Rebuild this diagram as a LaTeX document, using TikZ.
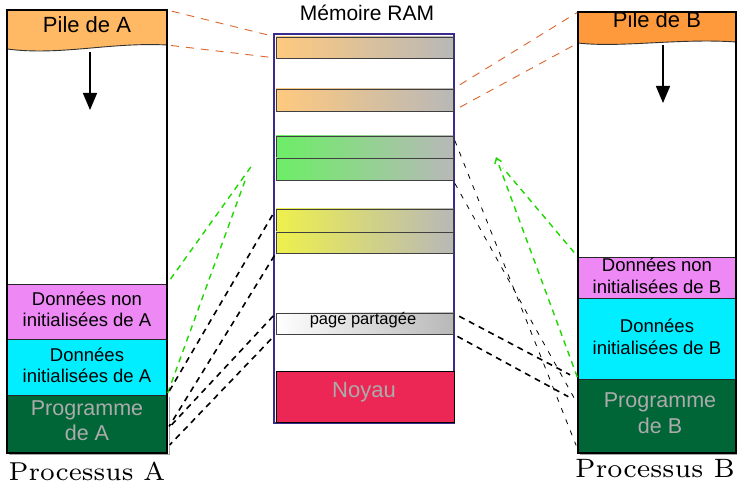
\documentclass[tikz,border=0pt]{standalone}
\usepackage{fontspec}
\usepackage{graphicx}
\newfontfamily\sansf{Liberation Sans}
\usetikzlibrary{arrows.meta,calc}

\definecolor{pileA}{HTML}{FFB864}
\definecolor{pileB}{HTML}{FF9A3C}
\definecolor{segpink}{HTML}{EE88F5}
\definecolor{segcyan}{HTML}{00EEFF}
\definecolor{seggreen}{HTML}{006637}
\definecolor{noyau}{HTML}{EC2756}
\definecolor{paletext}{HTML}{ABABAB}
\definecolor{dashorange}{HTML}{D9662A}
\definecolor{dashgreen}{HTML}{1ED800}
\definecolor{ramframe}{HTML}{3A2C8C}
\definecolor{barorange}{HTML}{FFC97E}
\definecolor{bargreen}{HTML}{6CEE66}
\definecolor{baryellow}{HTML}{EEF04C}
\definecolor{bargray}{HTML}{B8B8B8}

\tikzset{
  box/.style={rectangle, inner sep=0pt, outer sep=0pt, anchor=north west},
  bar/.style={box, draw=black!75, line width=0.8pt, minimum width=177pt},
  seg/.style={box, draw=black!85, line width=0.9pt, minimum width=#1},
  txt/.style={anchor=base, inner sep=0pt, font=\sansf\fontsize{18.5}{21}\selectfont},
  bigtxt/.style={anchor=base, inner sep=0pt, font=\sansf\fontsize{22}{25}\selectfont},
  orangedash/.style={draw=dashorange, line width=0.9pt, dash pattern=on 8pt off 7pt},
  greendash/.style={draw=dashgreen, line width=1.4pt, dash pattern=on 6pt off 5pt},
  blackthick/.style={draw=black, line width=1.6pt, dash pattern=on 6pt off 5pt},
  blackthin/.style={draw=black, line width=0.8pt, dash pattern=on 5pt off 7pt},
  stackarrow/.style={line width=1.5pt, -{Triangle[width=14pt,length=17pt]}},
}

\begin{document}
\begin{tikzpicture}[x=1pt,y=-1pt]
\useasboundingbox (0,0) rectangle (737,486);

% ---------- RAM ----------
\node[box, draw=ramframe, line width=1.4pt, minimum width=180pt, minimum height=389pt] (ram) at (274,34) {};
\node[bigtxt, font=\sansf\fontsize{21}{24}\selectfont] (ramtitle) at (367,21) {Mémoire RAM};

\node[bar, minimum height=21pt, left color=barorange, right color=bargray] (r1) at (276,37) {};
\node[bar, minimum height=22pt, left color=barorange, right color=bargray] (r2) at (276,89) {};
\node[bar, minimum height=21pt, left color=bargreen, right color=bargray] (r3) at (276,136) {};
\node[bar, minimum height=22pt, left color=bargreen, right color=bargray] (r4) at (276,158) {};
\node[bar, minimum height=22pt, left color=baryellow, right color=bargray] (r5) at (276,209) {};
\node[bar, minimum height=21pt, left color=baryellow, right color=bargray] (r6) at (276,232) {};
\node[bar, minimum height=21pt, left color=white, right color=bargray] (rp) at (276,313) {};
\node[anchor=base, inner sep=0pt, font=\sansf\fontsize{16.5}{18}\selectfont] (rptxt) at (363,325) {page partagée};
\node[box, draw=black, line width=1pt, fill=noyau, minimum width=178pt, minimum height=51pt] (noy) at (276,372) {};
\node[bigtxt, text=paletext] (noytxt) at (364,398) {Noyau};

% ---------- Processus A ----------
\node[box, minimum width=160pt, minimum height=35pt] (pileA) at (7,10) {};
\fill[pileA] (7,10) -- (167,10) -- (167,45) .. controls (110,42) and (60,56) .. (7,49) -- cycle;
\draw[black!80, line width=0.9pt] (167,45) .. controls (110,42) and (60,56) .. (7,49);
\node[bigtxt] (pileAtxt) at (87,33) {Pile de A};
\draw[stackarrow] (90,52) -- (90,110);

\node[seg=160pt, fill=segpink, minimum height=55pt] (pinkA) at (7,284) {};
\node[seg=160pt, fill=segcyan, minimum height=56pt] (cyanA) at (7,339) {};
\draw[gray!70, line width=1pt] (169,397) -- (169,455) -- (9,455);
\node[seg=160pt, fill=seggreen, minimum height=58pt] (greenA) at (7,395) {};
\node[box, draw=black, line width=1.3pt, minimum width=160pt, minimum height=443pt] (procA) at (7,10) {};

\node[txt] (pinkA1) at (87,306) {Données non};
\node[txt] (pinkA2) at (87,327) {initialisées de A};
\node[txt] (cyanA1) at (87,362) {Données};
\node[txt] (cyanA2) at (87,383) {initialisées de A};
\node[bigtxt, font=\sansf\fontsize{21.5}{25}\selectfont, text=paletext] (greenA1) at (87,416) {Programme};
\node[bigtxt, font=\sansf\fontsize{21.5}{25}\selectfont, text=paletext] (greenA2) at (87,441) {de A};
\node[anchor=base, inner sep=0pt] (lblA) at (87,481) {\scalebox{3.7}{\fontsize{7}{8}\selectfont Processus A}};

% ---------- Processus B ----------
\node[box, minimum width=158pt, minimum height=31pt] (pileB) at (578,12) {};
\fill[pileB] (578,12) -- (736,12) -- (736,42) .. controls (680,38) and (620,48) .. (578,43) -- cycle;
\draw[black!80, line width=0.9pt] (736,42) .. controls (680,38) and (620,48) .. (578,43);
\node[bigtxt] (pileBtxt) at (657,28) {Pile de B};
\draw[stackarrow] (663,45) -- (663,103);

\node[seg=158pt, fill=segpink, minimum height=41pt] (pinkB) at (578,257) {};
\node[seg=158pt, fill=segcyan, minimum height=81pt] (cyanB) at (578,298) {};
\node[seg=158pt, fill=seggreen, minimum height=74pt] (greenB) at (578,379) {};
\draw[gray!70, line width=1pt] (580,455) -- (737,455);
\node[box, draw=black, line width=1.3pt, minimum width=158pt, minimum height=441pt] (procB) at (578,12) {};

\node[txt] (pinkB1) at (657,272) {Données non};
\node[txt] (pinkB2) at (657,294) {initialisées de B};
\node[txt] (cyanB1) at (657,333) {Données};
\node[txt] (cyanB2) at (657,355) {initialisées de B};
\node[bigtxt, font=\sansf\fontsize{21.5}{25}\selectfont, text=paletext] (greenB1) at (660,408) {Programme};
\node[bigtxt, font=\sansf\fontsize{21.5}{25}\selectfont, text=paletext] (greenB2) at (660,434) {de B};
\node[anchor=base, inner sep=0pt] (lblB) at (655,478) {\scalebox{3.8}{\fontsize{7}{8}\selectfont Processus B}};

% ---------- stacks mapped into RAM ----------
\draw[orangedash, shorten <=5pt, shorten >=5pt] (pileA.north east) -- (r1.north west);
\draw[orangedash, shorten <=4pt, shorten >=7pt] (pileA.south east) -- (r1.south west);
\draw[orangedash, shorten <=8pt, shorten >=1pt] (r2.north east) -- (pileB.north west);
\draw[orangedash, shorten <=8pt, shorten >=1pt] (r2.south east) -- (pileB.south west);

% ---------- data segments ----------
\coordinate (gA1) at (253,164);
\coordinate (gA2) at (246,178);
\draw[greendash, shorten <=6pt] (pinkA.north east) -- (gA1);
\draw[greendash, shorten <=2pt] (greenA.north east) -- (gA2);

\coordinate (gB1) at (503,168);
\coordinate (gB2) at (496,157);
\draw[greendash, shorten <=6pt] (pinkB.north west) -- (gB1);
\draw[greendash, -{Straight Barb[length=5pt,width=7pt]}, shorten <=2pt] (greenB.north west) -- (gB2);

% ---------- code pages of A ----------
\draw[blackthick, shorten <=7pt, shorten >=3pt] (r5.north west) -- (greenA.north east);
\draw[blackthick, shorten <=3pt, shorten >=4pt] (r6.south west) -- ($(greenA.north east)!0.6!(greenA.south east)$);
\draw[blackthick, shorten <=4pt, shorten >=4pt] (rp.north west) -- ($(greenA.north east)!0.6!(greenA.south east)$);
\draw[blackthick, shorten <=7pt, shorten >=4pt] (rp.south west) -- ($(greenA.north east)!0.91!(greenA.south east)$);

% ---------- code pages of B ----------
\draw[blackthin, shorten <=5pt, shorten >=5pt] (r3.north east) -- ($(greenB.north west)!0.96!(greenB.south west)$);
\draw[blackthin, shorten <=4pt, shorten >=5pt] (r4.south east) -- ($(greenB.north west)!0.35!(greenB.south west)$);
\draw[blackthick, shorten <=7pt, shorten >=9pt] (rp.north east) -- (greenB.north west);
\draw[blackthick, shorten <=5pt, shorten >=11pt] (rp.south east) -- ($(greenB.north west)!0.31!(greenB.south west)$);
\end{tikzpicture}
\end{document}
